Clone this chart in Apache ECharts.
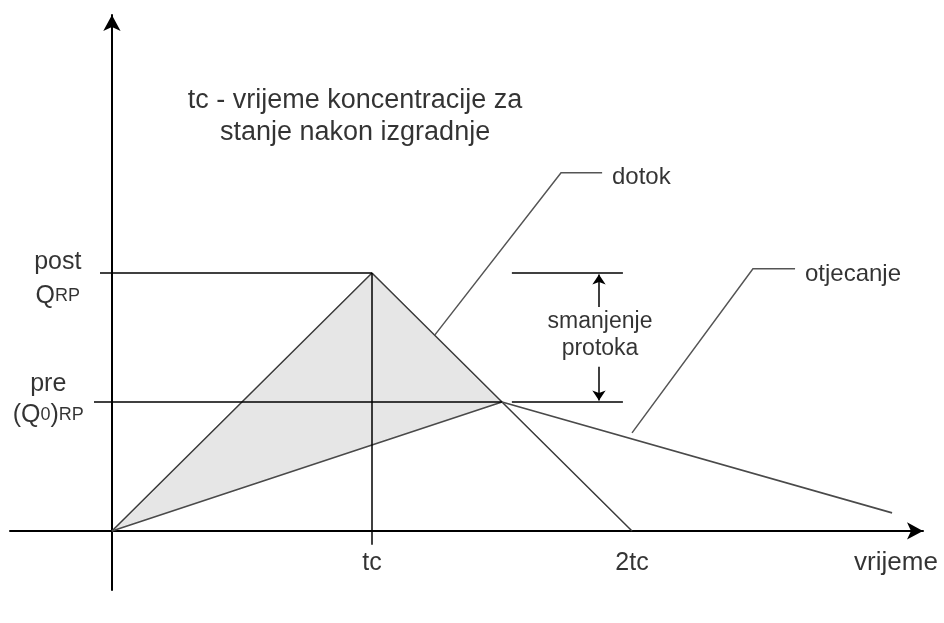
<!DOCTYPE html>
<html>
<head>
<meta charset="utf-8">
<script src="https://cdn.jsdelivr.net/npm/echarts@6/dist/echarts.min.js"></script>
<style>html,body{margin:0;background:#fff}#main{width:944px;height:623px}</style>
</head>
<body>
<div id="main"></div>
<script>
// vrijeme u jedinicama tc, protok u jedinicama post QRP
var xTicks = [1, 2, 3.015];
var xTickNames = ['tc', '2tc', 'vrijeme'];
var dotok = [[0, 0], [1, 1], [2, 0]];
var otjecanje = [[0, 0], [1.5, 0.5], [3, 0.07]];
var razlika = [[0, 0], [1, 1], [1.5, 0.5]];
// pomocne linije (razine, tc, oznake)
var razine = [
  [[-0.046, 1], [1, 1]],
  [[-0.069, 0.5], [1.5, 0.5]],
  [[1, 1], [1, -0.054]],
  [[1.538, 1], [1.965, 1]],
  [[1.538, 0.5], [1.965, 0.5]]
];
var vodilice = [
  [[1.242, 0.76], [1.727, 1.388], [1.885, 1.388]],
  [[2.0, 0.38], [2.465, 1.016], [2.627, 1.016]]
];
var strelice = [
  [[1.873, 0.868], [1.873, 0.994]],
  [[1.873, 0.636], [1.873, 0.506]]
];
var tekstovi = [
  {value: [0.935, 1.608], text: 'tc - vrijeme koncentracije za\nstanje nakon izgradnje', align: 'center', size: 27, lh: 32},
  {value: [1.923, 1.372], text: 'dotok', align: 'left', size: 24, lh: 28},
  {value: [2.665, 0.996], text: 'otjecanje', align: 'left', size: 24, lh: 28},
  {value: [1.877, 0.758], text: 'smanjenje\nprotoka', align: 'center', size: 23, lh: 27},
  {value: [-0.208, 0.977], text: '{b|post}\n{b|Q}{s|RP}', align: 'center', size: 25, lh: 34},
  {value: [-0.245, 0.508], text: '{b|pre}\n{b|(Q}{s|0}{b|)}{s|RP}', align: 'center', size: 25, lh: 31}
];
var xLabelY = -0.124;

var font = "'Liberation Sans', Arial, sans-serif";
var boja = '#000';

var labelItems = tekstovi.concat(xTicks.map(function (v, i) {
  return {value: [v, xLabelY], text: xTickNames[i], align: 'center', size: i === 2 ? 26 : 25, lh: 30};
}));

var chart = echarts.init(document.getElementById('main'));
chart.setOption({
  animation: false,
  backgroundColor: '#fff',
  grid: {left: 10, right: 21, top: 15, bottom: 33, outerBoundsMode: 'none', containLabel: false},
  xAxis: {
    type: 'value', min: -0.392, max: 3.119,
    splitLine: {show: false},
    axisTick: {show: false},
    axisLabel: {show: false},
    axisLine: {onZero: true, symbol: ['none', 'arrow'], symbolSize: [13, 16], lineStyle: {color: '#000', width: 2}}
  },
  yAxis: {
    type: 'value', min: -0.229, max: 2.0,
    splitLine: {show: false},
    axisTick: {show: false},
    axisLabel: {show: false},
    axisLine: {onZero: true, symbol: ['none', 'arrow'], symbolSize: [13, 16], lineStyle: {color: '#000', width: 2}}
  },
  series: [
    {
      type: 'custom', name: 'razlika', silent: true, z: 1,
      data: razlika,
      renderItem: function (params, api) {
        if (params.dataIndex !== 0) return null;
        return {
          type: 'polygon',
          shape: {points: razlika.map(function (p) { return api.coord(p); })},
          style: {fill: '#e6e6e6', stroke: 'none'}
        };
      }
    },
    {
      type: 'line', name: 'dotok', data: dotok, symbol: 'none', z: 3,
      lineStyle: {color: '#3a3a3a', width: 1.5}
    },
    {
      type: 'line', name: 'otjecanje', data: otjecanje, symbol: 'none', z: 3,
      lineStyle: {color: '#4a4a4a', width: 1.6}
    },
    {
      type: 'lines', coordinateSystem: 'cartesian2d', polyline: false, z: 4, silent: true,
      data: razine.map(function (c) { return {coords: c}; }),
      lineStyle: {color: '#000', width: 1.5, opacity: 1}
    },
    {
      type: 'lines', coordinateSystem: 'cartesian2d', polyline: true, z: 4, silent: true,
      data: vodilice.map(function (c) { return {coords: c}; }),
      lineStyle: {color: '#555', width: 1.5, opacity: 1}
    },
    {
      type: 'lines', coordinateSystem: 'cartesian2d', z: 4, silent: true,
      symbol: ['none', 'arrow'], symbolSize: 10,
      data: strelice.map(function (c) { return {coords: c}; }),
      lineStyle: {color: '#000', width: 1.5, opacity: 1}
    },
    {
      type: 'scatter', symbolSize: 0, silent: true, z: 5,
      data: labelItems.map(function (t) {
        return {
          value: t.value,
          label: {
            show: true, position: 'inside', formatter: t.text,
            align: t.align, verticalAlign: 'middle',
            color: boja, fontSize: t.size, lineHeight: t.lh, fontFamily: font,
            rich: {
              b: {fontSize: 25, color: boja, fontFamily: font, lineHeight: t.lh},
              s: {fontSize: 18, color: boja, fontFamily: font, lineHeight: t.lh}
            }
          }
        };
      })
    }
  ]
});
</script>
</body>
</html>
